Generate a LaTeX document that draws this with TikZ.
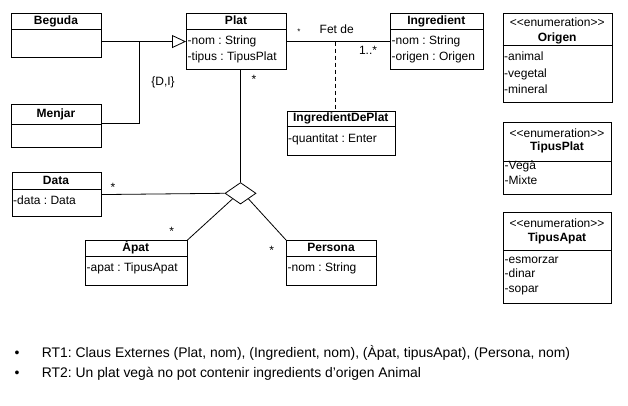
\documentclass[tikz,border=0pt]{standalone}
\usepackage{fontspec}
\setmainfont{Liberation Sans}
\usetikzlibrary{shapes.geometric,arrows.meta,calc}
\newcommand\clsline[2]{\draw[conn] ($(#1.north west)+(0,#2)$) -- ($(#1.north east)+(0,#2)$);}
\frenchspacing
\begin{document}
\begin{tikzpicture}[x=1pt,y=-1pt,
  box/.style={draw, line width=0.8pt, inner sep=0pt, anchor=north west},
  txt/.style={inner sep=0pt, text height=8.6pt, text depth=2.4pt},
  cname/.style={txt, font=\fontsize{12}{14}\selectfont\bfseries},
  stereo/.style={txt, font=\fontsize{12}{14}\selectfont},
  attr/.style={txt, font=\fontsize{12}{14}\selectfont, anchor=west},
  lbl/.style={txt, font=\fontsize{12}{14}\selectfont},
  mult/.style={font=\fontsize{12}{14}\selectfont, inner sep=0pt, anchor=base},
  conn/.style={line width=0.8pt},
  note/.style={font=\fontsize{13.9}{16}\selectfont, inner sep=0pt, text height=10pt, text depth=3pt, anchor=west}]
\useasboundingbox[fill=white] (0,0) rectangle (628,406);

% Beguda
\node[box, minimum width=90, minimum height=43.4] (beguda) at (11,13.3) {};
\node[cname] (begudan) at (56,21.5) {Beguda};
\clsline{beguda}{16.2}
% Menjar
\node[box, minimum width=90, minimum height=43] (menjar) at (11,104.3) {};
\node[cname] (menjarn) at (56,114) {Menjar};
\clsline{menjar}{19.7}
% Plat
\node[box, minimum width=100, minimum height=55.7] (plat) at (186,13.3) {};
\node[cname] (platn) at (236,21.5) {Plat};
\clsline{plat}{16.2}
\node[attr] (plata1) at (187.5,41.7) {-nom : String};
\node[attr] (plata2) at (187.5,57.3) {-tipus : TipusPlat};
% Ingredient
\node[box, minimum width=92.7, minimum height=55.7] (ingr) at (390,13.3) {};
\node[cname] (ingrn) at (436.3,21.5) {Ingredient};
\clsline{ingr}{16.2}
\node[attr] (ingra1) at (391.5,41.7) {-nom : String};
\node[attr] (ingra2) at (391.5,57.3) {-origen : Origen};
% IngredientDePlat
\node[box, minimum width=108.3, minimum height=44.3] (idp) at (286.7,110.7) {};
\node[cname] (idpn) at (340.8,118.5) {IngredientDePlat};
\clsline{idp}{15.3}
\node[attr] (idpa1) at (288,139.3) {-quantitat : Enter};
% Data
\node[box, minimum width=89, minimum height=43.7] (data) at (11.7,172.3) {};
\node[cname] (datan) at (56,181) {Data};
\clsline{data}{17}
\node[attr] (dataa1) at (13,201.7) {-data : Data};
% Apat
\node[box, minimum width=101.7, minimum height=45] (apat) at (85,240) {};
\node[cname] (apatn) at (135.8,248.5) {Àpat};
\clsline{apat}{16.7}
\node[attr] (apata1) at (86.5,268.3) {-apat : TipusApat};
% Persona
\node[box, minimum width=90, minimum height=45] (pers) at (286,240) {};
\node[cname] (persn) at (331,248.5) {Persona};
\clsline{pers}{16.7}
\node[attr] (persa1) at (287.5,268.3) {-nom : String};
% Origen
\node[box, minimum width=109, minimum height=88.4] (orig) at (502.7,13.3) {};
\node[stereo] (origs) at (557.2,23.5) {<{}<enumeration>{}>};
\node[cname] (orign) at (557.2,38.3) {Origen};
\clsline{orig}{32.4}
\node[attr] (origa1) at (504,57.3) {-animal};
\node[attr] (origa2) at (504,74) {-vegetal};
\node[attr] (origa3) at (504,90) {-mineral};
% TipusPlat
\node[box, minimum width=107.4, minimum height=72] (tplat) at (503.3,122.3) {};
\node[stereo] (tplats) at (557,134) {<{}<enumeration>{}>};
\node[cname] (tplatn) at (557,147.7) {TipusPlat};
\clsline{tplat}{38.7}
\node[attr] (tplata1) at (504.5,166.7) {-Vegà};
\node[attr] (tplata2) at (504.5,181) {-Mixte};
% TipusApat
\node[box, minimum width=107.4, minimum height=91] (tapat) at (503.3,212.3) {};
\node[stereo] (tapats) at (557,224.5) {<{}<enumeration>{}>};
\node[cname] (tapatn) at (557,238.3) {TipusApat};
\clsline{tapat}{37.7}
\node[attr] (tapata1) at (504.5,260) {-esmorzar};
\node[attr] (tapata2) at (504.5,274.3) {-dinar};
\node[attr] (tapata3) at (504.5,289) {-sopar};

% Generalization
\coordinate (gx) at (139.3,41.2);
\coordinate (mj) at ($(menjar.north east)+(0,19)$);
\draw[conn, -{Triangle[open,length=14pt,width=13pt,line width=0.8pt]}] (beguda.east |- plat.west) -- (plat.west);
\draw[conn] (mj) -| (gx);
\node[lbl] (di) at (163,82) {\{D,I\}};

% Fet de association
\draw[conn] (plat.east) -- (ingr.west);
\coordinate (fd) at ($(plat.east)!0.47!(ingr.west)$);
\draw[conn, dashed, dash pattern=on 4pt off 3pt] (fd) -- (fd |- idp.north);
\node[lbl] (fetde) at (336.7,30) {Fet de};
\node[mult, font=\fontsize{8}{9}\selectfont] (m1) at (299,35) {*};
\node[lbl] (m2) at (368,51.7) {1..*};

% Ternary association
\node[draw, diamond, line width=0.8pt, aspect=1.5, minimum width=31, minimum height=21.5, inner sep=0pt, fill=white] (dia) at (240.5,193.3) {};
\draw[conn] (dia.north) -- (dia.north |- plat.south);
\draw[conn] (data.east) -- (dia.west);
\draw[conn] (apat.north east) -- (dia.south west);
\draw[conn] (pers.north west) -- (dia.south east);
\node[mult] (m3) at (254,84) {*};
\node[mult] (m4) at (113,191) {*};
\node[mult] (m5) at (171.7,235.3) {*};
\node[mult] (m6) at (271.7,254.3) {*};

% Notes
\node[note, anchor=center] (b1) at (17,354.3) {•};
\node[note, anchor=center] (b2) at (17,374.3) {•};
\node[note] (rt1) at (41.7,354.3) {RT1: Claus Externes (Plat, nom), (Ingredient, nom), (Àpat, tipusApat), (Persona, nom)};
\node[note] (rt2) at (41.7,374.3) {RT2: Un plat vegà no pot contenir ingredients d’origen Animal};
\end{tikzpicture}
\end{document}
